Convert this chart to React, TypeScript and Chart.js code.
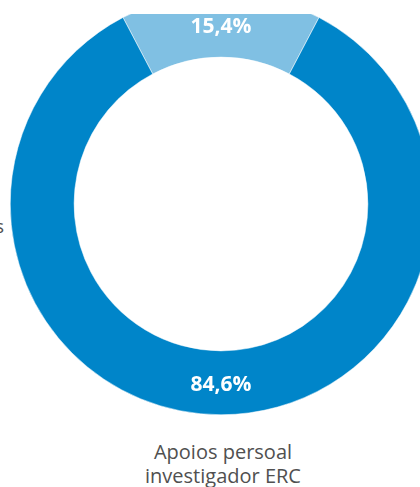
import React, { useEffect, useRef } from "react";
import { Chart, registerables } from "chart.js";

Chart.register(...registerables);

const categories = ["Outras axudas", "Apoios persoal investigador ERC"];
const values = [15.4, 84.6];
const valueLabels = ["15,4%", "84,6%"];
const colors = ["#80C0E3", "#0085C9"];

const labelPlugin = {
  id: "sliceLabels",
  afterDatasetsDraw(chart: any) {
    const { ctx } = chart;
    const meta = chart.getDatasetMeta(0);
    ctx.save();
    ctx.fillStyle = "#ffffff";
    ctx.font = "bold 21px 'Open Sans', sans-serif";
    ctx.textAlign = "center";
    ctx.textBaseline = "middle";
    meta.data.forEach((arc: any, i: number) => {
      const p = arc.tooltipPosition();
      ctx.fillText(valueLabels[i], p.x, p.y + 2);
    });
    ctx.restore();
  },
};

export default function App() {
  const ref = useRef<HTMLCanvasElement | null>(null);
  useEffect(() => {
    if (!ref.current) return;
    const total = values.reduce((a, b) => a + b, 0);
    const chart = new Chart(ref.current, {
      type: "doughnut",
      data: {
        labels: categories,
        datasets: [
          {
            data: values,
            backgroundColor: colors,
            borderColor: "#ffffff",
            borderWidth: 0.5,
          },
        ],
      },
      options: {
        animation: false,
        responsive: false,
        cutout: "69.7%",
        rotation: -((values[0] / total) * 360) / 2,
        layout: { padding: 0 },
        plugins: {
          legend: { display: false },
          tooltip: { enabled: false },
        },
      },
      plugins: [labelPlugin],
    });
    return () => chart.destroy();
  }, []);

  return (
    <div
      style={{
        position: "absolute",
        left: 0,
        top: 0,
        width: 420,
        height: 487,
        overflow: "hidden",
        background: "#ffffff",
        fontFamily: "'Open Sans', sans-serif",
      }}
    >
      <div
        style={{
          position: "absolute",
          left: 0,
          top: 14,
          width: 420,
          height: 473,
          overflow: "hidden",
        }}
      >
        <canvas
          ref={ref}
          width={422}
          height={422}
          style={{ position: "absolute", left: 10, top: -21, width: 422, height: 422 }}
        />
      </div>
      <div
        style={{
          position: "absolute",
          right: 416,
          top: 213,
          fontSize: 19,
          color: "#505050",
          whiteSpace: "nowrap",
          textAlign: "right",
        }}
      >
        {categories[0]}
      </div>
      <div
        style={{
          position: "absolute",
          left: 73,
          width: 300,
          top: 440,
          fontSize: 20,
          lineHeight: "24px",
          color: "#505050",
          textAlign: "center",
        }}
      >
        Apoios persoal
        <br />
        investigador ERC
      </div>
    </div>
  );
}
